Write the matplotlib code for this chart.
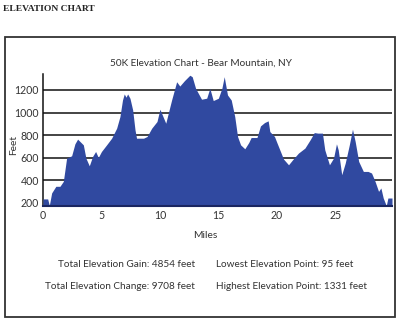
import matplotlib
matplotlib.use("Agg")
import matplotlib.pyplot as plt
from matplotlib.patches import Rectangle

# ── data ──────────────────────────────────────────────────────────────────
miles = [0.0, 0.4, 0.54, 0.74, 1.1, 1.45, 1.74, 2.02, 2.45, 2.73, 2.96, 3.16,
         3.45, 3.67, 3.96, 4.24, 4.5, 4.73, 5.0, 5.44, 5.87, 6.3, 6.58, 6.8,
         6.95, 7.1, 7.24, 7.44, 7.67, 7.87, 8.0, 8.6, 8.9, 9.3, 9.75, 10.0,
         10.5, 11.0, 11.43, 11.7, 12.1, 12.56, 12.76, 13.05, 13.56, 14.0, 14.27,
         14.56, 15.0, 15.3, 15.5, 15.78, 16.1, 16.4, 16.64, 16.9, 17.26, 17.6,
         17.8, 18.3, 18.6, 18.95, 19.26, 19.4, 19.8, 20.0, 20.57, 21.0, 21.4,
         21.85, 22.4, 22.85, 23.2, 23.5, 23.9, 24.1, 24.5, 24.85, 25.1, 25.25,
         25.55, 25.85, 26.2, 26.47, 26.7, 27.0, 27.4, 27.8, 28.1, 28.4, 28.7,
         28.9, 29.1, 29.36, 29.5, 29.85]
elevation = [233, 233, 175, 286, 345, 345, 389, 595, 616, 722, 764, 743,
             713, 595, 527, 610, 654, 601, 654, 713, 772, 861, 964, 1111,
             1165, 1136, 1165, 1126, 1023, 846, 772, 772, 787, 861, 920, 1029,
             905, 1111, 1273, 1235, 1283, 1331, 1318, 1215, 1118, 1127, 1215,
             1106, 1127, 1215, 1318, 1156, 1111, 964, 787, 713, 678, 734,
             778, 778, 881, 911, 926, 831, 787, 734, 587, 536, 587,
             640, 684, 758, 822, 817, 817, 669, 536, 595, 722, 669,
             448, 551, 713, 852, 743, 566, 477, 477, 463, 389, 300,
             330, 241, 173, 241, 241]
y_ticks = [200, 400, 600, 800, 1000, 1200]
x_ticks = [0, 5, 10, 15, 20, 25]
stats_left = ["Total Elevation Gain: 4854 feet", "Total Elevation Change: 9708 feet"]
stats_right = ["Lowest Elevation Point: 95 feet", "Highest Elevation Point: 1331 feet"]

FONT = "Lato"
fill_color = "#3049A0"
text_color = "#333333"

fig = plt.figure(figsize=(4.0, 3.22), dpi=100)
fig.patch.set_facecolor("white")

# outer frame
fig.patches.append(Rectangle((0.0125, 0.0155), 0.975, 0.8696, transform=fig.transFigure,
                             fill=False, edgecolor="#333333", lw=1.3, zorder=0))

fig.text(0.008, 0.973, "ELEVATION CHART", fontfamily="Liberation Serif",
         fontweight="bold", fontsize=6.8, ha="left", va="center", color="#222222")
fig.text(0.503, 0.804, "50K Elevation Chart - Bear Mountain, NY", fontfamily=FONT,
         fontsize=7.2, ha="center", va="center", color=text_color)

ax = fig.add_axes([0.1075, 0.3602, 0.8725, 0.41])
ax.fill_between(miles, elevation, 0, color=fill_color, lw=0, zorder=3)
ax.set_xlim(0, 29.85)
ax.set_ylim(170, 1342)

for yv in y_ticks[1:]:
    ax.axhline(yv, color="#111111", lw=1.1, zorder=1)

for s in ["top", "right"]:
    ax.spines[s].set_visible(False)
ax.spines["left"].set_color("#111111")
ax.spines["left"].set_linewidth(1.1)
ax.spines["bottom"].set_color("#1a2660")
ax.spines["bottom"].set_linewidth(1.5)
ax.spines["bottom"].set_zorder(4)

ax.set_xticks(x_ticks)
ax.set_yticks(y_ticks)
ax.tick_params(length=0, labelsize=7.6, colors=text_color, pad=3)
for lbl in ax.get_xticklabels() + ax.get_yticklabels():
    lbl.set_fontfamily(FONT)

# axis titles placed in figure coords (as in the reference)
fig.text(0.035, 0.55, "Feet", fontfamily=FONT, fontsize=7.4, color=text_color,
         rotation=90, ha="center", va="center")
fig.text(0.513, 0.27, "Miles", fontfamily=FONT, fontsize=7.4, color=text_color,
         ha="center", va="center")

for i, (l, r) in enumerate(zip(stats_left, stats_right)):
    y = 0.180 - i * 0.071
    fig.text(0.488, y, l, fontfamily=FONT, fontsize=7.2, ha="right", va="center",
             color=text_color)
    fig.text(0.540, y, r, fontfamily=FONT, fontsize=7.2, ha="left", va="center",
             color=text_color)

fig.savefig("out.png", dpi=100, facecolor="white")
